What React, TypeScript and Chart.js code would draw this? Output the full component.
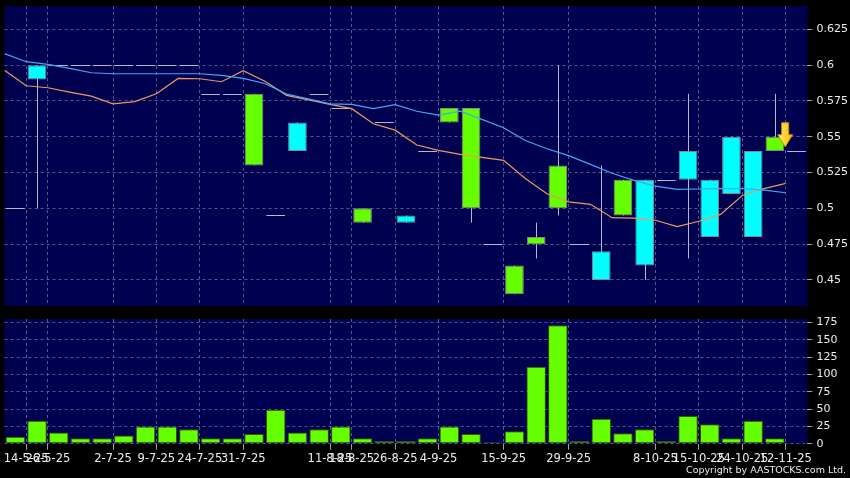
import React, { useEffect, useRef } from "react";
import { Chart, registerables } from "chart.js";
Chart.register(...registerables);

// ---- data ----
const tickLabels = ["14-5-25", "26-5-25", "2-7-25", "9-7-25", "24-7-25", "31-7-25", "11-8-25", "18-8-25", "26-8-25", "4-9-25", "15-9-25", "29-9-25", "8-10-25", "15-10-25", "24-10-25", "12-11-25"];
const tickSlots = [0, 1, 4, 6, 8, 10, 14, 15, 17, 19, 22, 25, 29, 31, 33, 35];

const opens = [0.5, 0.6, 0.6, 0.6, 0.6, 0.6, 0.6, 0.6, 0.6, 0.58, 0.58, 0.53, 0.495, 0.56, 0.58, 0.57, 0.49, 0.56, 0.495, 0.54, 0.56, 0.5, 0.475, 0.44, 0.475, 0.5, 0.475, 0.47, 0.495, 0.52, 0.52, 0.54, 0.52, 0.55, 0.54, 0.54, 0.54];
const highs = [0.5, 0.6, 0.6, 0.6, 0.6, 0.6, 0.6, 0.6, 0.6, 0.58, 0.58, 0.58, 0.495, 0.56, 0.58, 0.57, 0.5, 0.56, 0.495, 0.54, 0.57, 0.57, 0.475, 0.46, 0.49, 0.6, 0.475, 0.53, 0.52, 0.52, 0.52, 0.58, 0.52, 0.55, 0.54, 0.58, 0.54];
const lows = [0.5, 0.5, 0.6, 0.6, 0.6, 0.6, 0.6, 0.6, 0.6, 0.58, 0.58, 0.53, 0.495, 0.54, 0.58, 0.57, 0.49, 0.56, 0.49, 0.54, 0.56, 0.49, 0.475, 0.44, 0.465, 0.495, 0.475, 0.45, 0.495, 0.45, 0.52, 0.465, 0.48, 0.51, 0.48, 0.54, 0.54];
const closes = [0.5, 0.59, 0.6, 0.6, 0.6, 0.6, 0.6, 0.6, 0.6, 0.58, 0.58, 0.58, 0.495, 0.54, 0.58, 0.57, 0.5, 0.56, 0.49, 0.54, 0.57, 0.57, 0.475, 0.46, 0.48, 0.53, 0.475, 0.45, 0.52, 0.46, 0.52, 0.52, 0.48, 0.51, 0.48, 0.55, 0.54];
const volumes = [10, 33, 16, 8, 8, 12, 25, 25, 21, 8, 8, 14, 49, 16, 21, 25, 8, 4, 4, 8, 25, 14, 2, 18, 111, 171, 4, 36, 15, 21, 4, 40, 28, 8, 33, 8, 0];
// moving averages (values at the left edge of each slot, plus one at the right end)
const maShort = [0.5965, 0.5856, 0.5842, 0.5812, 0.5784, 0.573, 0.5745, 0.58, 0.5907, 0.5905, 0.5884, 0.5961, 0.5888, 0.5789, 0.5758, 0.5726, 0.5696, 0.5591, 0.5546, 0.5442, 0.5405, 0.5377, 0.5356, 0.5335, 0.5209, 0.5102, 0.5045, 0.5028, 0.4935, 0.4932, 0.4917, 0.4872, 0.491, 0.4958, 0.509, 0.5138, 0.5174];
const maLong = [0.608, 0.6024, 0.6005, 0.5977, 0.5947, 0.594, 0.594, 0.594, 0.594, 0.594, 0.5928, 0.5907, 0.5872, 0.5798, 0.5764, 0.573, 0.5726, 0.5696, 0.5724, 0.5678, 0.5651, 0.5679, 0.5621, 0.5563, 0.5474, 0.5416, 0.5368, 0.5307, 0.5245, 0.5195, 0.5155, 0.5132, 0.5135, 0.514, 0.5137, 0.5127, 0.5109];
const priceTicks = [0.45, 0.475, 0.5, 0.525, 0.55, 0.575, 0.6, 0.625];
const volumeTicks = [0, 25, 50, 75, 100, 125, 150, 175];
const arrowSlot = 35;

// ---- styles ----
const PLOT_BG = "#000050";
const GRID = "#55558f";
const UP = "#66ff00";
const DOWN = "#00ffff";
const WICK = "#b8b8c8";
const TEXT = "#ececec";
const FONT = "DejaVu Sans";
const N = opens.length;

const plotBg = {
  id: "plotBg",
  beforeDraw(chart: any) {
    const { ctx, chartArea: a } = chart;
    ctx.save();
    ctx.fillStyle = "#000";
    ctx.fillRect(0, 0, chart.width, chart.height);
    ctx.fillStyle = PLOT_BG;
    ctx.fillRect(a.left, a.top, a.right - a.left, a.bottom - a.top);
    ctx.restore();
  },
};

const candleLines = {
  id: "candleLines",
  beforeDatasetsDraw(chart: any) {
    const { ctx } = chart;
    const xs = chart.scales.x;
    const ys = chart.scales.y;
    ctx.save();
    ctx.strokeStyle = WICK;
    ctx.lineWidth = 1;
    for (let i = 0; i < N; i++) {
      const cx = Math.round(xs.getPixelForValue(i)) + 0.5;
      if (highs[i] > lows[i]) {
        ctx.beginPath();
        ctx.moveTo(cx, ys.getPixelForValue(highs[i]));
        ctx.lineTo(cx, ys.getPixelForValue(lows[i]));
        ctx.stroke();
      }
      if (opens[i] === closes[i]) {
        const y = Math.round(ys.getPixelForValue(opens[i])) + 0.5;
        ctx.beginPath();
        ctx.moveTo(xs.getPixelForValue(i - 0.43), y);
        ctx.lineTo(xs.getPixelForValue(i + 0.43), y);
        ctx.stroke();
      }
    }
    ctx.restore();
  },
  afterDatasetsDraw(chart: any) {
    const { ctx } = chart;
    const xs = chart.scales.x;
    const ys = chart.scales.y;
    const tipX = xs.getPixelForValue(arrowSlot + 0.5) - 0.5;
    const tipY = ys.getPixelForValue(Math.max(opens[arrowSlot], closes[arrowSlot])) + 10;
    ctx.save();
    const g = ctx.createLinearGradient(tipX - 8, 0, tipX + 8, 0);
    g.addColorStop(0, "#fff27a");
    g.addColorStop(1, "#ffb000");
    ctx.fillStyle = g;
    ctx.strokeStyle = "#c88a00";
    ctx.lineWidth = 1;
    ctx.beginPath();
    ctx.moveTo(tipX - 3.5, tipY - 24);
    ctx.lineTo(tipX + 3.5, tipY - 24);
    ctx.lineTo(tipX + 3.5, tipY - 12);
    ctx.lineTo(tipX + 7.5, tipY - 12);
    ctx.lineTo(tipX, tipY);
    ctx.lineTo(tipX - 7.5, tipY - 12);
    ctx.lineTo(tipX - 3.5, tipY - 12);
    ctx.closePath();
    ctx.fill();
    ctx.stroke();
    ctx.restore();
  },
};

function zeroPadding(s: any) {
  s.paddingTop = 0;
  s.paddingBottom = 0;
  s.paddingLeft = 0;
  s.paddingRight = 0;
}

function xScale(showLabels: boolean) {
  return {
    type: "linear",
    min: -0.5,
    max: N - 0.5,
    offset: false,
    afterBuildTicks: (s: any) => {
      s.ticks = tickSlots.map((v) => ({ value: v + 0.5 }));
    },
    afterFit: (s: any) => {
      s.height = showLabels ? 34.3 : 0;
      zeroPadding(s);
    },
    grid: { color: GRID, offset: false, drawTicks: showLabels, tickLength: 6, tickColor: "#a0a0a0", tickBorderDash: [], tickWidth: 1 },
    border: { display: false, dash: [3, 3] },
    ticks: {
      display: showLabels,
      autoSkip: false,
      maxRotation: 0,
      minRotation: 0,
      padding: 2,
      color: TEXT,
      font: { family: FONT, size: 11.5 },
      callback: (_v: any, i: number) => tickLabels[i],
    },
  };
}

function yScale(min: number, max: number, ticks: number[]) {
  return {
    type: "linear",
    position: "right",
    min,
    max,
    afterBuildTicks: (s: any) => {
      s.ticks = ticks.map((v) => ({ value: v }));
    },
    afterFit: (s: any) => {
      s.width = 42.6;
      zeroPadding(s);
    },
    grid: { color: GRID, drawTicks: true, tickLength: 5, tickColor: "#a0a0a0", tickBorderDash: [], tickWidth: 1 },
    border: { display: false, dash: [3, 3] },
    ticks: {
      padding: 4,
      color: TEXT,
      font: { family: FONT, size: 11 },
      callback: (v: any) => String(Number(Number(v).toFixed(3))),
    },
  };
}

export default function App() {
  const topRef = useRef<HTMLCanvasElement>(null);
  const botRef = useRef<HTMLCanvasElement>(null);

  useEffect(() => {
    const bodyIdx = opens.map((_, i) => i).filter((i) => opens[i] !== closes[i]);
    const top = new Chart(topRef.current as HTMLCanvasElement, {
      type: "bar",
      data: {
        datasets: [
          {
            type: "line",
            data: maLong.map((v, k) => ({ x: k - 0.5, y: v })),
            borderColor: "#3fa9f5",
            borderWidth: 1.2,
            pointRadius: 0,
            tension: 0,
            order: 0,
          } as any,
          {
            type: "line",
            data: maShort.map((v, k) => ({ x: k - 0.5, y: v })),
            borderColor: "#f0965e",
            borderWidth: 1.2,
            pointRadius: 0,
            tension: 0,
            order: 0,
          } as any,
          {
            type: "bar",
            data: bodyIdx.map((i) => ({ x: i, y: [Math.min(opens[i], closes[i]), Math.max(opens[i], closes[i])] })),
            backgroundColor: bodyIdx.map((i) => (closes[i] > opens[i] ? UP : DOWN)),
            borderColor: "rgba(140,140,150,0.95)",
            borderWidth: 1,
            borderSkipped: false,
            barPercentage: 0.86,
            categoryPercentage: 1,
            order: 1,
          } as any,
        ],
      },
      options: {
        responsive: false,
        animation: false,
        devicePixelRatio: 1,
        events: [],
        layout: { autoPadding: false, padding: { left: 4.5, right: 0, top: 6, bottom: 6 } },
        plugins: { legend: { display: false }, tooltip: { enabled: false } },
        scales: { x: xScale(false), y: yScale(0.4318, 0.6413, priceTicks) } as any,
      },
      plugins: [plotBg, candleLines],
    });

    const bot = new Chart(botRef.current as HTMLCanvasElement, {
      type: "bar",
      data: {
        datasets: [
          {
            data: volumes.map((v, i) => ({ x: i, y: v })),
            backgroundColor: UP,
            borderColor: "#2d5a00",
            borderWidth: 1,
            borderSkipped: false,
            barPercentage: 0.9,
            categoryPercentage: 1,
          } as any,
        ],
      },
      options: {
        responsive: false,
        animation: false,
        devicePixelRatio: 1,
        events: [],
        layout: { autoPadding: false, padding: { left: 4.5, right: 0, top: 7, bottom: 0 } },
        plugins: { legend: { display: false }, tooltip: { enabled: false } },
        scales: { x: xScale(true), y: yScale(0, 180, volumeTicks) } as any,
      },
      plugins: [plotBg],
    });

    return () => {
      top.destroy();
      bot.destroy();
    };
  }, []);

  return (
    <div style={{ position: "fixed", left: 0, top: 0, width: 850, height: 478, background: "#000", overflow: "hidden" }}>
      <canvas ref={topRef} width={850} height={312} style={{ position: "absolute", left: 0, top: 0 }} />
      <canvas ref={botRef} width={850} height={166} style={{ position: "absolute", left: 0, top: 312 }} />
      <div
        style={{
          position: "absolute",
          right: 4,
          top: 464,
          color: TEXT,
          fontFamily: FONT,
          fontSize: "9.5px",
          lineHeight: "12px",
          whiteSpace: "nowrap",
        }}
      >
        Copyright by AASTOCKS.com Ltd.
      </div>
    </div>
  );
}
